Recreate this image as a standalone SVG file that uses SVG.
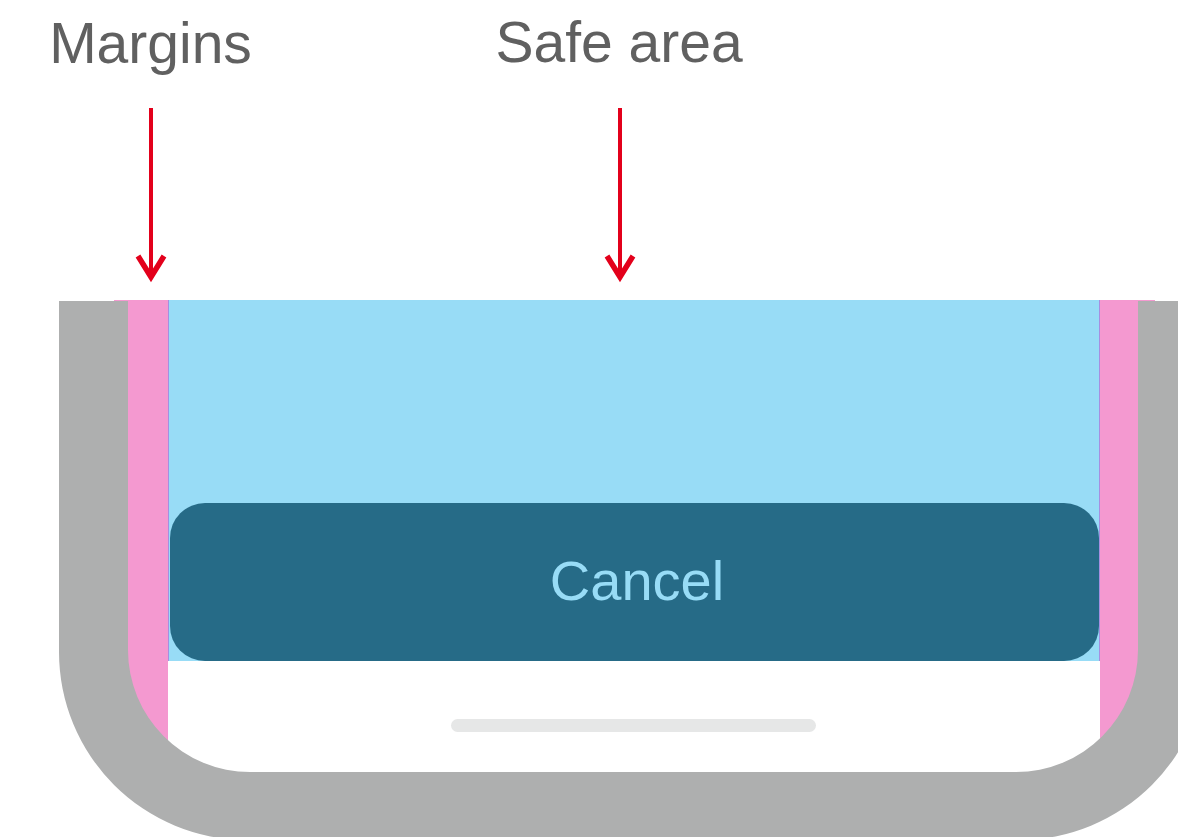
<svg xmlns="http://www.w3.org/2000/svg" width="1178" height="837" viewBox="0 0 1178 837">
<style>
.label{font-family:"Liberation Sans",Arial,sans-serif;font-size:57px;fill:#606060;text-anchor:middle}
.btn{font-family:"Liberation Sans",Arial,sans-serif;font-size:56px;fill:#98dcf6;text-anchor:middle}
.shaft{stroke:#e3001b;stroke-width:4;fill:none}
.head{stroke:#e3001b;stroke-width:5.5;fill:none;stroke-linecap:butt;stroke-linejoin:miter}
.margin{fill:#f499d0}
.edge{stroke:#a58fe0;stroke-width:1}
</style>
<rect width="1178" height="837" fill="#ffffff"/>
<g id="margins-area">
<rect class="margin" x="114" y="300" width="54" height="1"/>
<rect class="margin" x="127" y="300" width="41" height="480"/>
<rect class="margin" x="1100" y="300" width="55" height="1"/>
<rect class="margin" x="1100" y="300" width="39" height="480"/>
</g>
<g id="safe-area">
<rect x="168" y="300" width="932" height="361" fill="#98dcf6"/>
<line class="edge" x1="168.5" y1="300" x2="168.5" y2="661"/>
<line class="edge" x1="1099.5" y1="300" x2="1099.5" y2="661"/>
</g>
<g id="cancel-button">
<rect x="170" y="503" width="929" height="158" rx="35" fill="#266b87"/>
<text class="btn" x="637" y="600">Cancel</text>
</g>
<g id="home-indicator">
<rect x="451" y="719" width="365" height="13" rx="6.5" fill="#e6e7e7"/>
</g>
<g id="device-frame">
<path fill="#aeafaf" fill-rule="evenodd" d="M59,301 H1207 V652 A188,188 0 0 1 1019,840 H247 A188,188 0 0 1 59,652 Z M128,301 V650 A122,122 0 0 0 250,772 H1016 A122,122 0 0 0 1138,650 V301 Z"/>
</g>
<g id="label-margins">
<text class="label" x="150.5" y="63">Margins</text>
</g>
<g id="label-safe-area">
<text class="label" x="619" y="62">Safe area</text>
</g>
<g id="connectors">
<line class="shaft" x1="151" y1="108" x2="151" y2="277"/>
<polyline class="head" points="138,256 151,277 164,256"/>
<line class="shaft" x1="620" y1="108" x2="620" y2="277"/>
<polyline class="head" points="607,256 620,277 633,256"/>
</g>
</svg>
